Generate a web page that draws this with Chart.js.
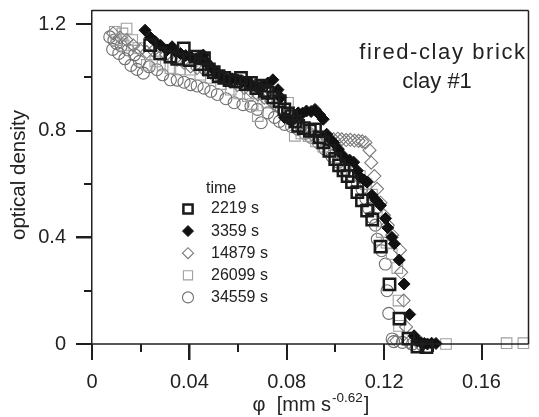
<!DOCTYPE html>
<html>
<head>
<meta charset="utf-8">
<script src="https://cdn.jsdelivr.net/npm/chart.js@4.4.0/dist/chart.umd.min.js"></script>
<style>
  body { margin: 0; background: #fff; }
  canvas { display: block; }
</style>
</head>
<body>
<canvas id="grafico" width="539" height="417"></canvas>
<script>
// leyenda: tiempo de cada serie
const tiempos = ['2219 s', '3359 s', '14879 s', '26099 s', '34559 s']

// [phi, densidad optica]
const s2219 = [[0.0239,1.121],[0.0280,1.090],[0.0322,1.078],[0.0350,1.070],[0.0377,1.109],[0.0400,1.065],[0.0425,1.078],[0.0445,1.050],[0.0460,1.072],[0.0480,1.030],[0.0500,1.020],[0.0520,1.005],[0.0543,0.998],[0.0565,0.990],[0.0590,0.985],[0.0612,0.998],[0.0632,0.975],[0.0653,0.979],[0.0675,0.960],[0.0695,0.969],[0.0710,0.950],[0.0722,0.942],[0.0745,0.925],[0.0771,0.911],[0.0790,0.880],[0.0805,0.865],[0.0819,0.855],[0.0835,0.835],[0.0847,0.818],[0.0870,0.810],[0.0895,0.800],[0.0916,0.805],[0.0935,0.775],[0.0950,0.756],[0.0975,0.725],[0.0999,0.694],[0.1015,0.670],[0.1033,0.651],[0.1050,0.630],[0.1068,0.607],[0.1090,0.570],[0.1109,0.539],[0.1130,0.500],[0.1151,0.467],[0.1185,0.365],[0.1222,0.224],[0.1263,0.095],[0.1300,0.020],[0.1337,-0.010],[0.1374,-0.012]]

const s3359 = [[0.0218,1.177],[0.0240,1.150],[0.0260,1.134],[0.0282,1.120],[0.0308,1.103],[0.0329,1.115],[0.0345,1.095],[0.0363,1.090],[0.0385,1.082],[0.0405,1.078],[0.0428,1.070],[0.0457,1.084],[0.0468,1.060],[0.0480,1.047],[0.0498,1.030],[0.0515,1.016],[0.0532,1.005],[0.0550,0.991],[0.0575,0.995],[0.0598,0.991],[0.0620,0.985],[0.0640,0.979],[0.0660,0.970],[0.0681,0.960],[0.0700,0.968],[0.0722,0.979],[0.0743,0.991],[0.0764,0.954],[0.0775,0.925],[0.0791,0.849],[0.0805,0.845],[0.0819,0.836],[0.0835,0.850],[0.0847,0.867],[0.0865,0.866],[0.0881,0.874],[0.0900,0.872],[0.0916,0.880],[0.0935,0.860],[0.0950,0.843],[0.0964,0.787],[0.0978,0.770],[0.0992,0.756],[0.1012,0.731],[0.1025,0.712],[0.1040,0.694],[0.1058,0.690],[0.1075,0.682],[0.1090,0.650],[0.1102,0.626],[0.1118,0.615],[0.1130,0.607],[0.1150,0.558],[0.1168,0.538],[0.1185,0.520],[0.1206,0.471],[0.1215,0.436],[0.1232,0.400],[0.1242,0.376],[0.1262,0.315],[0.1282,0.225],[0.1305,0.111],[0.1323,0.031],[0.1335,0.012],[0.1351,0.006],[0.1365,0.002],[0.1378,0.000],[0.1395,0.003],[0.1413,0.002]]

const s14879 = [[0.0087,1.165],[0.0115,1.150],[0.0142,1.140],[0.0170,1.120],[0.0198,1.103],[0.0225,1.095],[0.0252,1.100],[0.0280,1.115],[0.0305,1.085],[0.0328,1.075],[0.0350,1.066],[0.0378,1.055],[0.0405,1.041],[0.0432,1.035],[0.0460,1.029],[0.0488,1.018],[0.0515,1.010],[0.0542,0.998],[0.0570,0.985],[0.0598,0.972],[0.0626,0.960],[0.0653,0.948],[0.0681,0.936],[0.0708,0.924],[0.0736,0.911],[0.0757,0.895],[0.0778,0.880],[0.0798,0.862],[0.0819,0.843],[0.0840,0.828],[0.0860,0.812],[0.0880,0.800],[0.0902,0.787],[0.0922,0.780],[0.0943,0.775],[0.0968,0.770],[0.0992,0.768],[0.1010,0.770],[0.1026,0.768],[0.1044,0.765],[0.1061,0.766],[0.1078,0.763],[0.1095,0.762],[0.1110,0.760],[0.1123,0.756],[0.1140,0.727],[0.1147,0.680],[0.1160,0.630],[0.1171,0.582],[0.1185,0.530],[0.1199,0.483],[0.1215,0.445],[0.1233,0.409],[0.1265,0.352],[0.1270,0.269],[0.1280,0.163],[0.1290,0.064],[0.1250,0.012],[0.1300,0.005],[0.1344,0.000]]

const s26099 = [[0.0094,1.171],[0.0100,1.140],[0.0125,1.165],[0.0130,1.120],[0.0142,1.183],[0.0165,1.140],[0.0190,1.110],[0.0225,1.047],[0.0260,1.060],[0.0290,1.045],[0.0322,1.035],[0.0360,1.030],[0.0405,1.029],[0.0445,1.010],[0.0488,0.998],[0.0530,0.975],[0.0570,0.954],[0.0605,0.940],[0.0640,0.930],[0.0660,0.900],[0.0681,0.855],[0.0720,0.905],[0.0760,0.905],[0.0805,0.905],[0.0833,0.781],[0.0860,0.790],[0.0890,0.780],[0.0920,0.760],[0.0950,0.740],[0.0980,0.720],[0.1010,0.700],[0.1040,0.675],[0.1070,0.650],[0.1100,0.630],[0.1125,0.600],[0.1150,0.560],[0.1170,0.500],[0.1190,0.420],[0.1210,0.380],[0.1231,0.338],[0.1254,0.285],[0.1259,0.163],[0.1261,0.068],[0.1454,0.000],[0.1703,0.003],[0.1772,0.003]]

const s34559 = [[0.0073,1.152],[0.0085,1.105],[0.0090,1.140],[0.0101,1.128],[0.0110,1.090],[0.0120,1.118],[0.0135,1.070],[0.0149,1.103],[0.0160,1.045],[0.0175,1.085],[0.0185,1.030],[0.0195,1.060],[0.0211,1.016],[0.0235,1.040],[0.0267,1.029],[0.0290,1.010],[0.0322,0.991],[0.0350,0.990],[0.0378,0.982],[0.0405,0.973],[0.0432,0.968],[0.0460,0.960],[0.0488,0.948],[0.0515,0.936],[0.0550,0.920],[0.0584,0.905],[0.0620,0.898],[0.0653,0.892],[0.0680,0.880],[0.0695,0.830],[0.0722,0.867],[0.0750,0.850],[0.0770,0.835],[0.0791,0.824],[0.0820,0.815],[0.0847,0.805],[0.0875,0.790],[0.0900,0.775],[0.0930,0.755],[0.0957,0.731],[0.0985,0.705],[0.1012,0.682],[0.1040,0.655],[0.1068,0.632],[0.1090,0.605],[0.1109,0.582],[0.1125,0.545],[0.1137,0.508],[0.1150,0.475],[0.1164,0.446],[0.1172,0.393],[0.1190,0.350],[0.1205,0.300],[0.1212,0.200],[0.1219,0.115],[0.1233,0.019],[0.1239,0.009],[0.1275,0.006],[0.1316,0.000]]

const series = [s2219, s3359, s14879, s26099, s34559]

// ticks
const xTicks = [0, 0.04, 0.08, 0.12, 0.16]
const xMinor = [0.02, 0.06, 0.10, 0.14]
const yTicks = [0, 0.4, 0.8, 1.2]
const yMinor = [0.2, 0.6, 1.0]

const fuente = '"Liberation Sans", Arial, sans-serif'
const negro = '#222'

const estilos = [
  { pointStyle: 'rect', radius: 8, fill: 'rgba(0,0,0,0)', border: '#1a1a1a', width: 2.5 },
  { pointStyle: 'rectRot', radius: 6, fill: '#111', border: '#111', width: 1 },
  { pointStyle: 'rectRot', radius: 6.5, fill: 'rgba(0,0,0,0)', border: '#7a7a7a', width: 1.1 },
  { pointStyle: 'rect', radius: 7.5, fill: 'rgba(0,0,0,0)', border: '#a0a0a0', width: 1.1 },
  { pointStyle: 'circle', radius: 6, fill: 'rgba(0,0,0,0)', border: '#707070', width: 1.1 },
]

const datasets = series.map((s, i) => ({
  label: tiempos[i],
  data: s.map(([x, y]) => ({ x, y })),
  pointStyle: estilos[i].pointStyle,
  pointRadius: estilos[i].radius,
  pointBackgroundColor: estilos[i].fill,
  pointBorderColor: estilos[i].border,
  pointBorderWidth: estilos[i].width,
  showLine: false,
  clip: false,
}))

// marco y marcas de los ejes, antes de los textos
function dibujarEjes(chart) {
  const { ctx, chartArea: a, scales } = chart
  const sx = scales.x, sy = scales.y
  const y0 = sy.getPixelForValue(0)
  ctx.save()
  ctx.strokeStyle = negro
  ctx.lineWidth = 1.5
  ctx.beginPath()
  ctx.moveTo(a.left, a.top)
  ctx.lineTo(a.right, a.top)
  ctx.moveTo(a.right, a.top)
  ctx.lineTo(a.right, y0)
  ctx.moveTo(a.left - 16, y0)
  ctx.lineTo(a.right, y0)
  ctx.moveTo(a.left, y0)
  ctx.lineTo(a.left, y0 + 14)
  ctx.stroke()

  ctx.fillStyle = '#1e1e1e'
  xTicks.forEach(v => {
    const px = Math.round(sx.getPixelForValue(v))
    ctx.fillRect(px - 1, Math.round(y0), 2, 16)
  })
  xMinor.forEach(v => {
    const px = Math.round(sx.getPixelForValue(v))
    ctx.fillRect(px - 1, Math.round(y0), 2, 8)
  })
  yTicks.forEach(v => {
    const py = Math.round(sy.getPixelForValue(v))
    ctx.fillRect(Math.round(a.left) - 16, py - 1, 16, 2)
  })
  yMinor.forEach(v => {
    const py = Math.round(sy.getPixelForValue(v))
    ctx.fillRect(Math.round(a.left) - 8, py - 1, 8, 2)
  })
  ctx.restore()
}

// textos y leyenda
const marco = {
  id: 'marco',
  afterDatasetsDraw(chart) {
    dibujarEjes(chart)
  },
  afterDraw(chart) {
    const { ctx } = chart
    ctx.save()
    ctx.fillStyle = negro
    // titulo eje y
    ctx.save()
    ctx.translate(19, 175)
    ctx.rotate(-Math.PI / 2)
    ctx.font = '20.5px ' + fuente
    ctx.textAlign = 'center'
    ctx.textBaseline = 'middle'
    ctx.fillText('optical density', 0, 0)
    ctx.restore()

    // titulo eje x con exponente
    const p1 = 'φ  [mm s', p2 = '-0.62', p3 = ']'
    ctx.textBaseline = 'alphabetic'
    ctx.textAlign = 'left'
    ctx.font = '20px ' + fuente
    const w1 = ctx.measureText(p1).width
    const w3 = ctx.measureText(p3).width
    ctx.font = '13.5px ' + fuente
    const w2 = ctx.measureText(p2).width
    let x = 310 - (w1 + w2 + w3) / 2
    ctx.font = '20px ' + fuente
    ctx.fillText(p1, x, 411)
    ctx.font = '13.5px ' + fuente
    ctx.fillText(p2, x + w1 + 1, 402)
    ctx.font = '20px ' + fuente
    ctx.fillText(p3, x + w1 + w2 + 2, 411)

    // anotacion
    ctx.textAlign = 'center'
    ctx.font = '22px ' + fuente
    ctx.save()
    ctx.letterSpacing = '1.6px'
    ctx.fillText('fired-clay brick', 443, 59)
    ctx.restore()
    ctx.fillText('clay #1', 437, 88)

    // leyenda
    ctx.textAlign = 'left'
    ctx.textBaseline = 'middle'
    ctx.font = '16px ' + fuente
    ctx.fillText('time', 206, 189)
    chart.data.datasets.forEach((d, i) => {
      const ly = 209 + i * 22.1
      ctx.fillStyle = negro
      ctx.fillText(d.label, 211, ly)
      ctx.save()
      ctx.fillStyle = d.pointBackgroundColor
      ctx.strokeStyle = d.pointBorderColor
      ctx.lineWidth = d.pointBorderWidth
      Chart.helpers.drawPoint(ctx, {
        pointStyle: d.pointStyle,
        radius: d.pointStyle === 'rect' ? 6.5 : 5.5,
        rotation: 0,
        borderWidth: d.pointBorderWidth,
      }, 188, ly)
      ctx.restore()
    })
    ctx.restore()
  },
}

const tickFont = { family: fuente, size: 20 }
const sinPadding = (s) => { s.paddingTop = 0; s.paddingBottom = 0; s.paddingLeft = 0; s.paddingRight = 0 }
const rejilla = {
  display: true,
  drawOnChartArea: false,
  drawTicks: true,
  tickLength: 16,
  color: negro,
  lineWidth: 1.5,
}

new Chart(document.getElementById('grafico'), {
  type: 'scatter',
  data: { datasets },
  options: {
    responsive: false,
    animation: false,
    events: [],
    layout: { padding: { top: 7, right: 1, left: 0, bottom: 0 } },
    plugins: { legend: { display: false }, tooltip: { enabled: false } },
    scales: {
      x: {
        type: 'linear',
        min: 0,
        max: 0.1793,
        position: 'bottom',
        afterBuildTicks: (s) => { s.ticks = xTicks.map(v => ({ value: v })) },
        afterFit: (s) => { s.height = 73; sinPadding(s) },
        grid: rejilla,
        border: { display: false },
        ticks: { padding: 10, color: negro, font: tickFont, maxRotation: 0, autoSkip: false, callback: v => String(v) },
      },
      y: {
        type: 'linear',
        min: 0,
        max: 1.251,
        position: 'left',
        afterBuildTicks: (s) => { s.ticks = yTicks.map(v => ({ value: v })) },
        afterFit: (s) => { s.width = 92; sinPadding(s) },
        grid: rejilla,
        border: { display: true, color: negro, width: 1.5 },
        ticks: { padding: 10, color: negro, font: tickFont, callback: v => String(v) },
      },
    },
  },
  plugins: [marco],
})
</script>
</body>
</html>
